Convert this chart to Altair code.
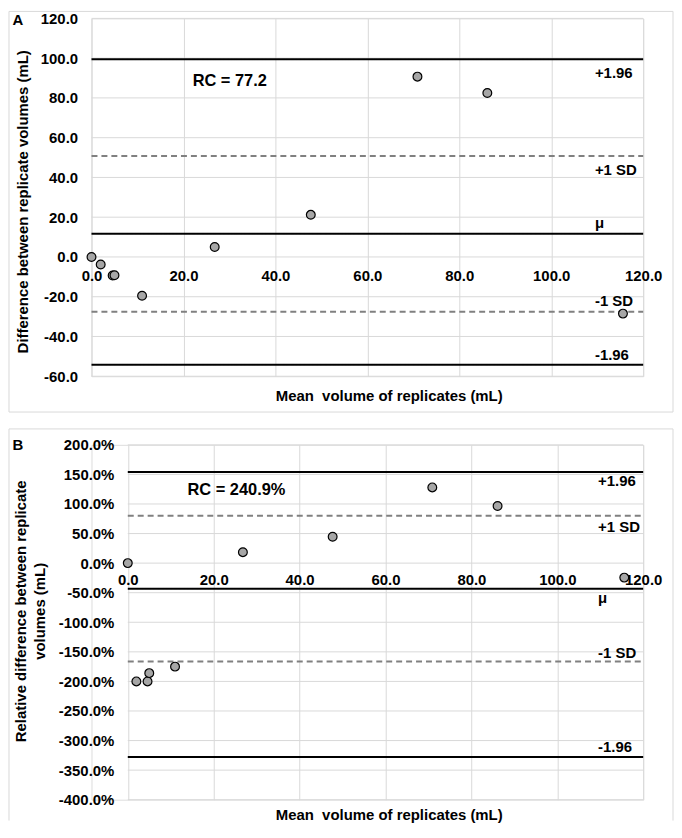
import altair as alt
import pandas as pd

# ---------------- data ----------------
mean_volume = [0.0, 2.0, 4.6, 5.0, 11.0, 26.8, 47.7, 70.9, 86.1, 115.6]
difference_ml = [0.0, -3.8, -9.3, -9.2, -19.5, 5.0, 21.2, 90.7, 82.5, -28.5]
relative_difference_pct = [0.0, -200.0, -200.0, -186.0, -175.0, 18.5, 44.5, 128.0, 96.5, -24.5]

limit_names = ["+1.96", "+1 SD", "\u03bc", "-1 SD", "-1.96"]
limit_kinds = ["limit", "sd", "mean", "sd", "limit"]
limits_a = [99.5, 50.8, 11.7, -27.5, -54.2]
limits_b = [154.1, 80.1, -43.2, -166.4, -327.8]
label_y_a = [92.6, 43.8, 17.2, -22.3, -49.5]
label_y_b = [138.4, 61.6, -58.8, -151.3, -310.9]
label_x = [109.5, 109.5, 109.5, 109.5, 109.5]

rc_text = ["RC = 77.2", "RC = 240.9%"]
rc_x = [22.0, 13.9]
rc_y = [88.5, 123.3]

x_domain = [0, 120]
x_ticks = [0, 20, 40, 60, 80, 100, 120]
y_ticks_a = [-60, -40, -20, 0, 20, 40, 60, 80, 100, 120]
y_ticks_b = [-400, -350, -300, -250, -200, -150, -100, -50, 0, 50, 100, 150, 200]

x_title = "Mean\u00a0 volume of replicates (mL)"
y_title_a = "Difference between replicate volumes (mL)"
y_title_b = ["Relative difference between replicate", "volumes (mL)"]

FONT = "Liberation Sans"
GRID = "#d9d9d9"
FS = 15


def panel(letter, values, limits, label_y, rc_i, y_ticks, y_domain, y_label_expr,
          y_title, height, x_left, x_offset, x_label_pad, x_title_y,
          y_title_x, y_title_y, y_label_pad, border, closed_box):
    width = 555
    xscale = alt.Scale(domain=x_domain, nice=False, zero=False, range=[x_left, width])
    yscale = alt.Scale(domain=y_domain, nice=False, zero=False)

    yaxis = alt.Axis(values=y_ticks, labelExpr=y_label_expr, grid=False,
                     domain=False, ticks=False, labelPadding=y_label_pad, offset=-x_left,
                     labelFont=FONT, labelFontSize=FS, labelFontWeight="bold",
                     labelColor="black", title=y_title, titleX=y_title_x, titleY=y_title_y,
                     titleAngle=270, titleBaseline="middle", titleAlign="center",
                     titleFont=FONT, titleFontSize=FS, titleFontWeight="bold",
                     titleColor="black", titleLineHeight=19)
    xaxis_grid = alt.Axis(values=x_ticks, orient="bottom", grid=True, gridColor=GRID,
                          gridWidth=1, labels=False, ticks=False, domain=False,
                          title=x_title, titleX=299, titleY=x_title_y,
                          titleBaseline="middle", titleAlign="center", titleFont=FONT,
                          titleFontSize=FS, titleFontWeight="bold", titleColor="black")
    xaxis_labels = alt.Axis(values=x_ticks, orient="bottom", grid=False, labels=True,
                            format=".1f", labelFlush=False, labelOverlap=False,
                            ticks=False, domain=False, offset=x_offset,
                            labelBaseline="middle", labelPadding=x_label_pad,
                            labelFont=FONT, labelFontSize=FS, labelFontWeight="bold",
                            labelColor="black", title=None)

    pts = pd.DataFrame({"mean": mean_volume, "v": values})
    lines_df = pd.DataFrame({"v": limits, "kind": limit_kinds,
                             "x0": x_domain[0], "x1": x_domain[1]})
    grid_df = pd.DataFrame({"v": y_ticks, "x0": x_domain[0], "x1": x_domain[1]})
    labels_df = pd.DataFrame({"lx": label_x, "ly": label_y, "name": limit_names})
    rc_df = pd.DataFrame({"rx": [rc_x[rc_i]], "ry": [rc_y[rc_i]], "t": [rc_text[rc_i]]})
    one = pd.DataFrame({"k": [0]})

    ygrid = alt.Chart(grid_df).mark_rule(color=GRID, strokeWidth=1).encode(
        x=alt.X("x0:Q", scale=xscale, axis=None), x2="x1:Q",
        y=alt.Y("v:Q", scale=yscale, axis=yaxis),
    )
    kinds = ["limit", "sd", "mean"]
    rules = alt.Chart(lines_df).mark_rule().encode(
        x=alt.X("x0:Q", scale=xscale, axis=None), x2="x1:Q",
        y=alt.Y("v:Q", scale=yscale, axis=yaxis),
        strokeDash=alt.StrokeDash("kind:N", scale=alt.Scale(domain=kinds, range=[[1, 0], [6, 4], [1, 0]]), legend=None),
        strokeWidth=alt.StrokeWidth("kind:N", scale=alt.Scale(domain=kinds, range=[2, 2, 1.3]), legend=None),
        color=alt.Color("kind:N", scale=alt.Scale(domain=kinds, range=["#000000", "#808080", "#000000"]), legend=None),
    )
    points = alt.Chart(pts).mark_circle(size=78, color="#a6a6a6", stroke="black",
                                        strokeWidth=1.2, opacity=1).encode(
        x=alt.X("mean:Q", scale=xscale, axis=xaxis_grid),
        y=alt.Y("v:Q", scale=yscale, axis=yaxis),
    )
    side = alt.Chart(labels_df).mark_text(align="left", baseline="middle", font=FONT,
                                          fontSize=FS, fontWeight="bold", color="black").encode(
        x=alt.X("lx:Q", scale=xscale, axis=None),
        y=alt.Y("ly:Q", scale=yscale, axis=yaxis),
        text="name:N",
    )
    rc = alt.Chart(rc_df).mark_text(align="left", baseline="middle", font=FONT,
                                    fontSize=16.5, fontWeight="bold", color="black").encode(
        x=alt.X("rx:Q", scale=xscale, axis=xaxis_labels),
        y=alt.Y("ry:Q", scale=yscale, axis=yaxis),
        text="t:N",
    )
    bx0, bx1, by0, by1, lx, ly = border
    if closed_box:
        frame = [alt.Chart(one).mark_rect(filled=False, stroke=GRID, strokeWidth=1).encode(
            x=alt.value(bx0), x2=alt.value(bx1), y=alt.value(by0), y2=alt.value(by1))]
    else:
        frame = [
            alt.Chart(one).mark_rule(color=GRID, strokeWidth=1).encode(
                x=alt.value(bx0), x2=alt.value(bx1), y=alt.value(by0)),
            alt.Chart(one).mark_rule(color=GRID, strokeWidth=1).encode(
                x=alt.value(bx0), y=alt.value(by0), y2=alt.value(by1)),
            alt.Chart(one).mark_rule(color=GRID, strokeWidth=1).encode(
                x=alt.value(bx1), y=alt.value(by0), y2=alt.value(by1)),
        ]
    let = alt.Chart(one).mark_text(text=letter, align="center", baseline="middle", font=FONT,
                                   fontSize=FS, fontWeight="bold", color="black").encode(
        x=alt.value(lx), y=alt.value(ly),
    )
    return alt.layer(*frame, ygrid, rules, points, side, rc, let).resolve_axis(
        x="independent").properties(width=width, height=height)


hyphen = "replace(format(datum.value, '.1f'), '\u2212', '-')"
panel_a = panel("A", difference_ml, limits_a, label_y_a, 0, y_ticks_a, [-60, 120],
                hyphen, y_title_a, 360,
                0, -120, 19, 19, -69, 184, 14,
                [-83, 585, -7, 396, -74, 1.5], True)
panel_b = panel("B", relative_difference_pct, limits_b, label_y_b, 1, y_ticks_b, [-400, 200],
                hyphen + " + '%'", y_title_b, 357,
                36.5, -238, 17, 15, -107.5, 167, 14,
                [-83, 585, -16, 378, -74, 0.5], False)

chart = alt.vconcat(panel_a, panel_b, spacing=15).properties(
    padding=0
).configure_view(stroke=None).configure(background="white")

chart.save("out.html", embed_options={"renderer": "svg", "actions": False})
